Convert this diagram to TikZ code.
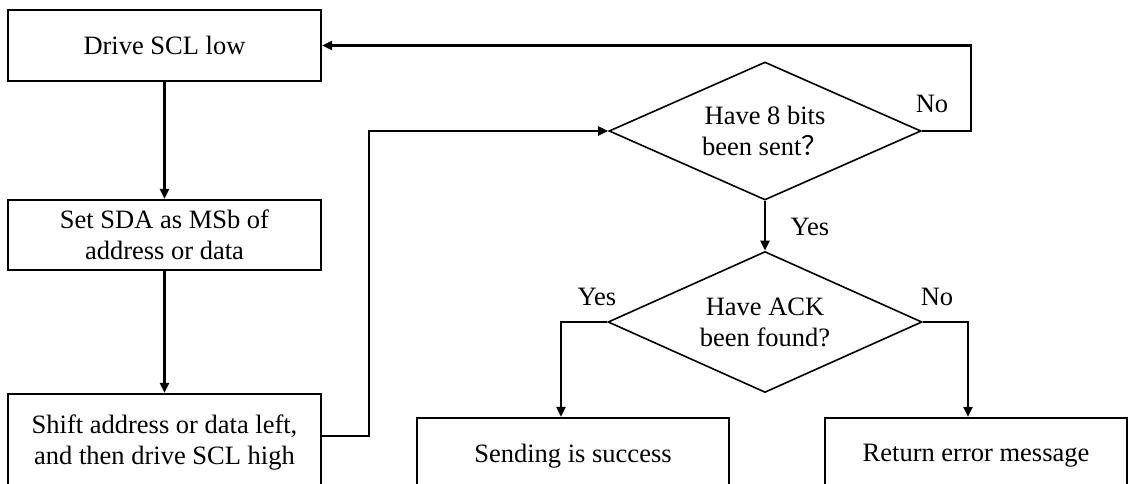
\documentclass[tikz,border=0pt]{standalone}
\usepackage{fontspec}
\setmainfont{Liberation Serif}
\newfontfamily\cjk{Noto Sans CJK SC}
\usetikzlibrary{arrows.meta,shapes.geometric}

\tikzset{
  stepbox/.style={draw, line width=2.4pt, rectangle, inner sep=0pt, align=center},
  decision/.style={draw, line width=1.6pt, diamond, aspect=2.26, inner sep=0pt, align=center},
  flow/.style={line width=2.4pt, -{Triangle[length=10pt,width=9pt]}},
  tag/.style={inner sep=0pt},
}

\begin{document}
\begin{tikzpicture}[x=1pt, y=-1pt, font=\fontsize{26.5}{31}\selectfont]
  \useasboundingbox (0,0) rectangle (1130,484);
  \clip (0,0) rectangle (1130,484);

  % process boxes
  \node[stepbox, minimum width=313pt, minimum height=71pt] (drive) at (164.5,45.5) {Drive SCL low};
  \node[stepbox, minimum width=313pt, minimum height=70pt] (setsda) at (164.5,235) {Set SDA as MSb of\\address or data};
  \node[stepbox, minimum width=313pt, minimum height=98pt] (shift) at (164.5,443) {Shift address or data left,\\and then drive SCL high};
  \node[stepbox, minimum width=312pt, minimum height=76pt] (success) at (573,456) {Sending is success};
  \node[stepbox, minimum width=302pt, minimum height=76pt] (error) at (976,456) {Return error message};

  % decisions
  \node[decision, minimum width=312pt, minimum height=138pt] (bits) at (765,131) {Have 8 bits\\been sent{\cjk ？}};
  \node[decision, minimum width=314pt, minimum height=141pt] (ack) at (765,322) {Have ACK\\been found?};

  % connectors
  \draw[flow] (drive.south) -- (setsda.north);
  \draw[flow] (setsda.south) -- (shift.north);
  \draw[flow] ([yshift=7pt]shift.east) -- ++(47,0) |- (bits.west);
  \draw[flow] (bits.east) -- ++(49,0) |- (drive.east);
  \draw[flow] (bits.south) -- (ack.north);
  \draw[flow] (ack.west) -| ([xshift=-12pt]success.north);
  \draw[flow] (ack.east) -| ([xshift=-8pt]error.north);

  % branch labels
  \node[tag] (nobits) at (932,104) {No};
  \node[tag] (yesbits) at (810,227) {Yes};
  \node[tag] (yesack) at (597,297) {Yes};
  \node[tag] (noack) at (937,297) {No};
\end{tikzpicture}
\end{document}
